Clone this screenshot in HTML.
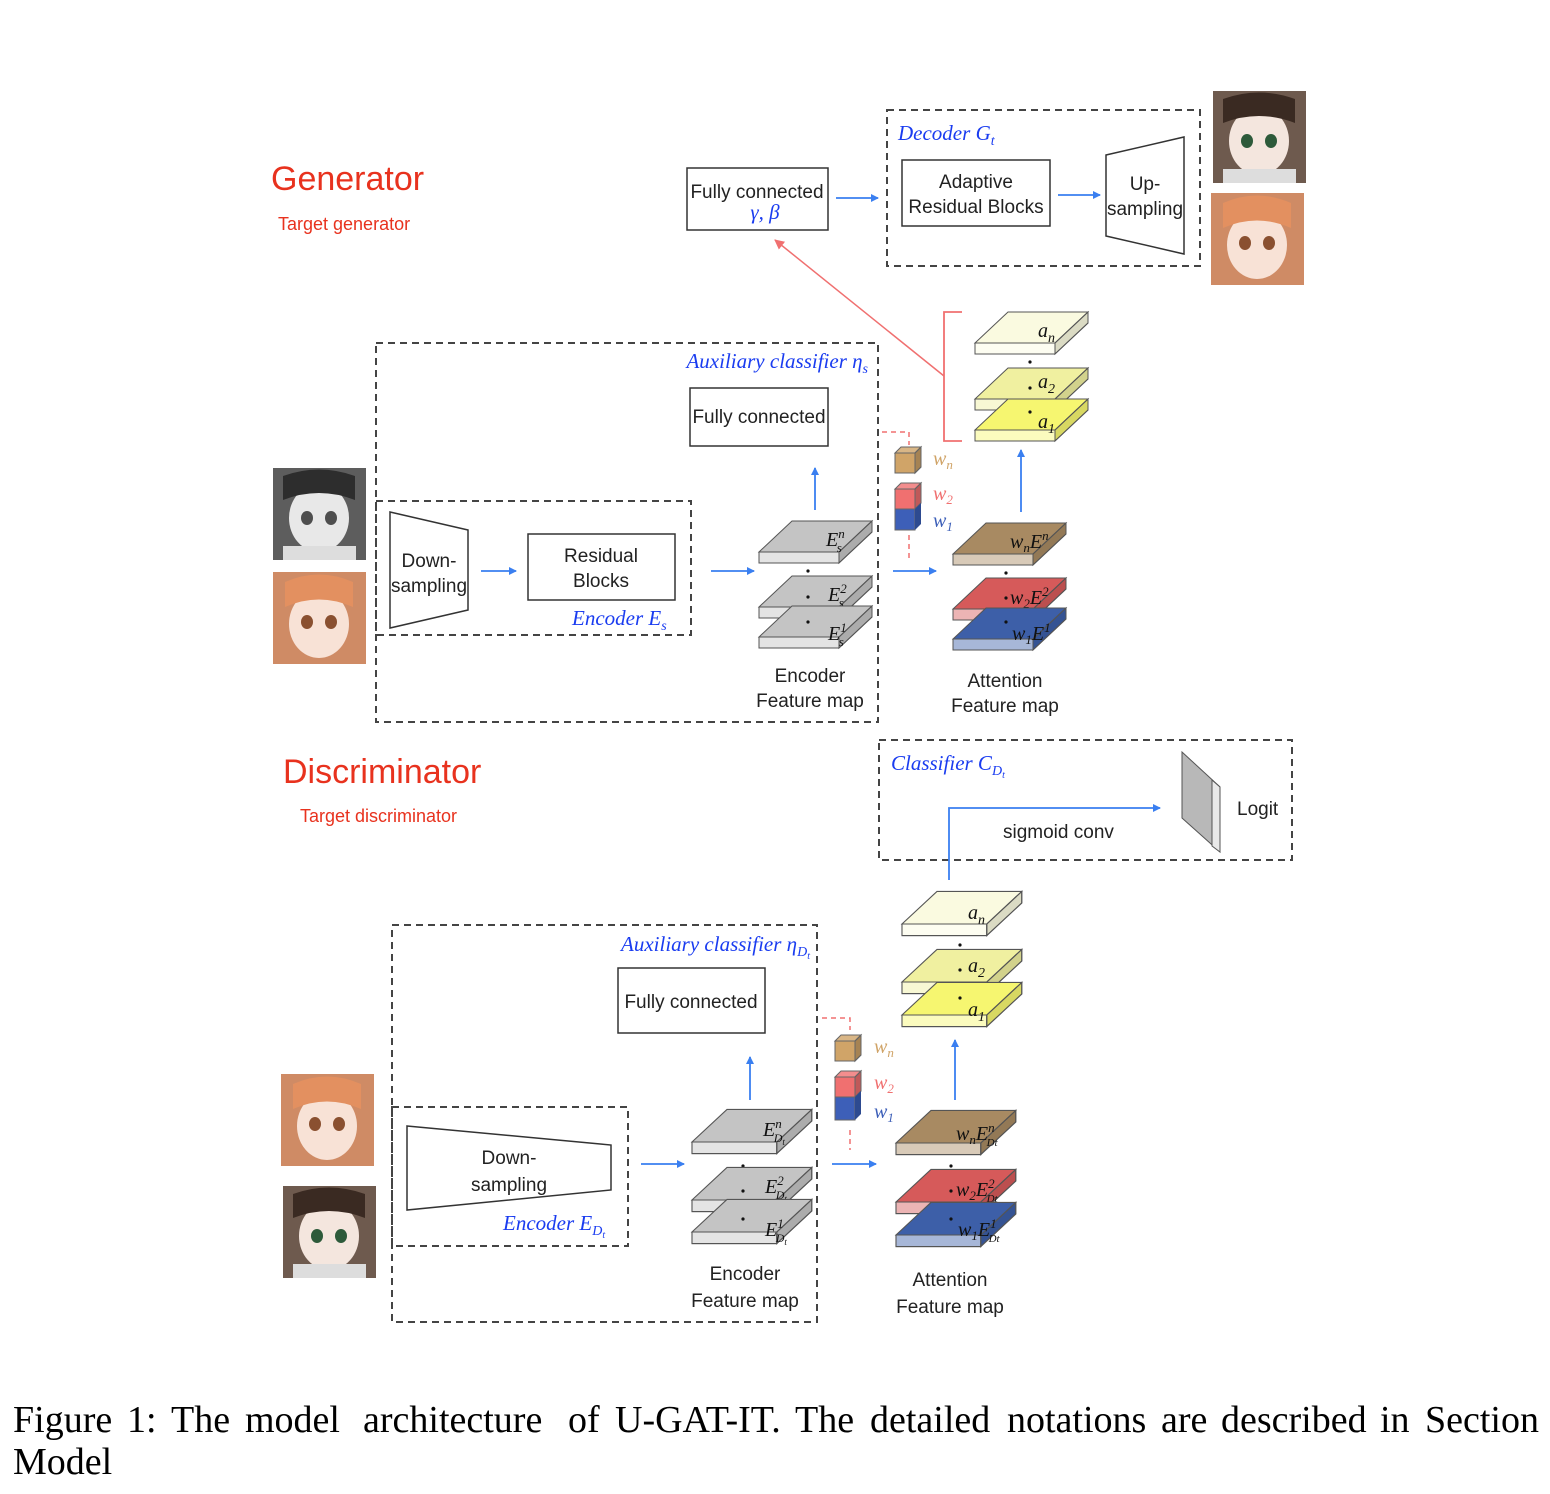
<!DOCTYPE html>
<html><head><meta charset="utf-8">
<style>
html,body{margin:0;padding:0;background:#fff;}
svg{display:block;}
.s{font-family:"Liberation Sans","DejaVu Sans",sans-serif;font-size:19px;fill:#222;}
.b{font-family:"Liberation Serif",serif;font-style:italic;font-size:21px;fill:#1a3cf0;}
.m{font-family:"Liberation Serif",serif;font-style:italic;font-size:20px;fill:#111;}
.box{fill:#fff;stroke:#333;stroke-width:1.5;}
.dash{fill:none;stroke:#444;stroke-width:2;stroke-dasharray:7,5;}
.ar{stroke:#3a7ff0;stroke-width:1.8;fill:none;marker-end:url(#ab);}
.cap{font-family:"Liberation Serif",serif;font-size:38px;fill:#000;}
</style></head><body>
<svg width="1550" height="1494" viewBox="0 0 1550 1494" xmlns="http://www.w3.org/2000/svg">
<defs>
<marker id="ab" markerWidth="8" markerHeight="8" refX="7" refY="4" orient="auto" markerUnits="userSpaceOnUse"><path d="M0,0 L8,4 L0,8 z" fill="#3a7ff0"/></marker>
<marker id="ar" markerWidth="10" markerHeight="10" refX="9" refY="5" orient="auto" markerUnits="userSpaceOnUse"><path d="M0,0 L10,5 L0,10 z" fill="#f07070"/></marker>
<g id="p" stroke="#555" stroke-width="1">
<polygon points="0,0 80,0 113,-31 33,-31"/>
<polygon points="0,0 80,0 80,11 0,11"/>
<polygon points="0,0 80,0 80,11 0,11" fill="#fff" fill-opacity="0.55"/>
<polygon points="80,0 113,-31 113,-20 80,11"/>
<polygon points="80,0 113,-31 113,-20 80,11" fill="#000" fill-opacity="0.12"/>
</g>
<g id="cube" stroke="#666" stroke-width="1">
<polygon points="0,6 20,6 20,26 0,26"/>
<polygon points="0,6 6,0 26,0 20,6" fill-opacity="0.8"/>
<polygon points="20,6 26,0 26,20 20,26"/>
<polygon points="20,6 26,0 26,20 20,26" fill="#000" fill-opacity="0.2"/>
</g>
<g id="face">
<rect x="0" y="0" width="93" height="92" fill="#d98a5a"/>
<rect x="0" y="0" width="93" height="92" fill="#b89080" opacity="0.3"/>
<ellipse cx="46" cy="52" rx="30" ry="34" fill="#f8e2d6"/>
<ellipse cx="34" cy="50" rx="6" ry="7" fill="#8a5030"/>
<ellipse cx="58" cy="50" rx="6" ry="7" fill="#8a5030"/>
<path d="M12,10 Q46,-5 80,10 L80,35 Q46,20 12,35z" fill="#e39060"/>
</g>
<g id="face2">
<rect x="0" y="0" width="93" height="92" fill="#6e5a4e"/>
<ellipse cx="46" cy="50" rx="30" ry="34" fill="#f4e6de"/>
<path d="M10,8 Q46,-5 82,8 L82,32 Q46,18 10,32z" fill="#3a2a22"/>
<ellipse cx="34" cy="50" rx="6" ry="7" fill="#2d5a3a"/>
<ellipse cx="58" cy="50" rx="6" ry="7" fill="#2d5a3a"/>
<rect x="10" y="78" width="73" height="14" fill="#ddd"/>
</g>
</defs>

<text x="271" y="190" font-family="Liberation Sans,sans-serif" font-size="34" fill="#e8321e">Generator</text>
<text x="278" y="230" font-family="Liberation Sans,sans-serif" font-size="18" fill="#e8321e">Target generator</text>

<rect class="box" x="687" y="168" width="141" height="62"/>
<text class="s" x="757" y="198" text-anchor="middle">Fully connected</text>
<text class="b" x="765" y="219" text-anchor="middle">γ, β</text>
<line class="ar" x1="836" y1="198" x2="878" y2="198"/>
<rect class="dash" x="887" y="110" width="313" height="156"/>
<text class="b" x="898" y="140">Decoder <tspan>G</tspan><tspan font-size="14" dy="5">t</tspan></text>
<rect class="box" x="902" y="160" width="148" height="66"/>
<text class="s" x="976" y="188" text-anchor="middle">Adaptive</text>
<text class="s" x="976" y="213" text-anchor="middle">Residual Blocks</text>
<line class="ar" x1="1058" y1="195" x2="1100" y2="195"/>
<polygon class="box" points="1106,155 1184,137 1184,254 1106,236"/>
<text class="s" x="1145" y="190" text-anchor="middle">Up-</text>
<text class="s" x="1145" y="215" text-anchor="middle">sampling</text>
<use href="#face2" x="1213" y="91"/>
<use href="#face" x="1211" y="193"/>

<line x1="944" y1="376" x2="775" y2="240" stroke="#f07070" stroke-width="1.5" marker-end="url(#ar)"/>
<polyline points="962,312 944,312 944,441 962,441" fill="none" stroke="#f07070" stroke-width="1.8"/>

<use href="#p" x="975" y="343" fill="#fafae0"/>
<text class="m" x="1038" y="337">a<tspan font-size="14" dy="5">n</tspan></text>
<circle cx="1030" cy="362" r="1.6" fill="#111"/>
<use href="#p" x="975" y="399" fill="#f0f0a0"/>
<text class="m" x="1038" y="388">a<tspan font-size="14" dy="5">2</tspan></text>
<circle cx="1030" cy="388" r="1.6" fill="#111"/>
<use href="#p" x="975" y="430" fill="#f6f670"/>
<text class="m" x="1038" y="428">a<tspan font-size="14" dy="5">1</tspan></text>
<circle cx="1030" cy="412" r="1.6" fill="#111"/>

<rect class="dash" x="376" y="343" width="502" height="379"/>
<text class="b" x="868" y="368" text-anchor="end">Auxiliary classifier η<tspan font-size="14" dy="5">s</tspan></text>
<rect class="box" x="690" y="388" width="138" height="58"/>
<text class="s" x="759" y="423" text-anchor="middle">Fully connected</text>
<line class="ar" x1="815" y1="510" x2="815" y2="468"/>
<rect class="dash" x="376" y="501" width="315" height="134" fill="#fff"/>
<polygon class="box" points="390,512 468,530 468,610 390,628"/>
<text class="s" x="429" y="567" text-anchor="middle">Down-</text>
<text class="s" x="429" y="592" text-anchor="middle">sampling</text>
<line class="ar" x1="481" y1="571" x2="516" y2="571"/>
<rect class="box" x="528" y="534" width="147" height="66"/>
<text class="s" x="601" y="562" text-anchor="middle">Residual</text>
<text class="s" x="601" y="587" text-anchor="middle">Blocks</text>
<text class="b" x="572" y="625">Encoder E<tspan font-size="14" dy="5">s</tspan></text>
<line class="ar" x1="711" y1="571" x2="754" y2="571"/>
<use href="#face2" x="273" y="468" style="filter:grayscale(1)"/>
<use href="#face" x="273" y="572"/>

<use href="#p" x="759" y="552" fill="#c4c4c4"/>
<text class="m" x="826" y="546">E<tspan font-size="13" dy="-8">n</tspan><tspan font-size="13" dx="-8" dy="14">s</tspan></text>
<circle cx="808" cy="571" r="1.6" fill="#111"/>
<use href="#p" x="759" y="607" fill="#c4c4c4"/>
<text class="m" x="828" y="601">E<tspan font-size="13" dy="-8">2</tspan><tspan font-size="13" dx="-8" dy="14">s</tspan></text>
<circle cx="808" cy="597" r="1.6" fill="#111"/>
<use href="#p" x="759" y="637" fill="#c4c4c4"/>
<text class="m" x="828" y="640">E<tspan font-size="13" dy="-8">1</tspan><tspan font-size="13" dx="-8" dy="14">s</tspan></text>
<circle cx="808" cy="622" r="1.6" fill="#111"/>
<text class="s" x="810" y="682" text-anchor="middle">Encoder</text>
<text class="s" x="810" y="707" text-anchor="middle">Feature map</text>

<polyline points="882,432 909,432 909,445" fill="none" stroke="#f07070" stroke-width="1.5" stroke-dasharray="5,4"/>
<line x1="909" y1="535" x2="909" y2="558" stroke="#f07070" stroke-width="1.5" stroke-dasharray="5,4"/>
<use href="#cube" x="895" y="447" fill="#d0a468"/>
<use href="#cube" x="895" y="483" fill="#f07070"/>
<rect x="895" y="509" width="20" height="21" fill="#3d5fb8" stroke="#666"/>
<polygon points="915,509 921,503 921,524 915,530" fill="#2d4a90"/>
<text class="m" x="933" y="465" style="fill:#d0a468">w<tspan font-size="13" dy="4">n</tspan></text>
<text class="m" x="933" y="500" style="fill:#f07070">w<tspan font-size="13" dy="4">2</tspan></text>
<text class="m" x="933" y="527" style="fill:#3d5fb8">w<tspan font-size="13" dy="4">1</tspan></text>
<line class="ar" x1="893" y1="571" x2="936" y2="571"/>
<line class="ar" x1="1021" y1="512" x2="1021" y2="450"/>

<use href="#p" x="953" y="554" fill="#a88a62"/>
<text class="m" x="1010" y="548">w<tspan font-size="13" dy="4">n</tspan><tspan dy="-4">E</tspan><tspan font-size="13" dy="-8">n</tspan></text>
<circle cx="1006" cy="573" r="1.6" fill="#111"/>
<use href="#p" x="953" y="609" fill="#d65a5a"/>
<text class="m" x="1010" y="604">w<tspan font-size="13" dy="4">2</tspan><tspan dy="-4">E</tspan><tspan font-size="13" dy="-8">2</tspan></text>
<circle cx="1006" cy="598" r="1.6" fill="#111"/>
<use href="#p" x="953" y="639" fill="#3d5fa8"/>
<text class="m" x="1012" y="640">w<tspan font-size="13" dy="4">1</tspan><tspan dy="-4">E</tspan><tspan font-size="13" dy="-8">1</tspan></text>
<circle cx="1006" cy="622" r="1.6" fill="#111"/>
<text class="s" x="1005" y="687" text-anchor="middle">Attention</text>
<text class="s" x="1005" y="712" text-anchor="middle">Feature map</text>

<text x="283" y="783" font-family="Liberation Sans,sans-serif" font-size="34" fill="#e8321e">Discriminator</text>
<text x="300" y="822" font-family="Liberation Sans,sans-serif" font-size="18" fill="#e8321e">Target discriminator</text>

<rect class="dash" x="879" y="740" width="413" height="120"/>
<text class="b" x="891" y="770">Classifier C<tspan font-size="14" dy="5">D</tspan><tspan font-size="10" dy="3">t</tspan></text>
<polygon points="1182,752 1220,787 1220,852 1182,818" fill="#b8b8b8" stroke="#555"/>
<polygon points="1212,780 1220,787 1220,852 1212,846" fill="#e8e8e8" stroke="#555"/>
<text class="s" x="1237" y="815">Logit</text>
<polyline points="949,880 949,808 1160,808" class="ar"/>
<text class="s" x="1003" y="838">sigmoid conv</text>

<g transform="translate(902,924) scale(1.06,1.05)"><use href="#p" fill="#fafae0"/></g>
<text class="m" x="968" y="919">a<tspan font-size="14" dy="5">n</tspan></text>
<circle cx="960" cy="945" r="1.6" fill="#111"/>
<g transform="translate(902,982) scale(1.06,1.05)"><use href="#p" fill="#f0f0a0"/></g>
<text class="m" x="968" y="972">a<tspan font-size="14" dy="5">2</tspan></text>
<circle cx="960" cy="970" r="1.6" fill="#111"/>
<g transform="translate(902,1015) scale(1.06,1.05)"><use href="#p" fill="#f6f670"/></g>
<text class="m" x="968" y="1016">a<tspan font-size="14" dy="5">1</tspan></text>
<circle cx="960" cy="998" r="1.6" fill="#111"/>
<line class="ar" x1="955" y1="1100" x2="955" y2="1040"/>

<rect class="dash" x="392" y="925" width="425" height="397"/>
<text class="b" x="810" y="951" text-anchor="end">Auxiliary classifier η<tspan font-size="14" dy="5">D</tspan><tspan font-size="10" dy="3">t</tspan></text>
<rect class="box" x="618" y="968" width="147" height="65"/>
<text class="s" x="691" y="1008" text-anchor="middle">Fully connected</text>
<line class="ar" x1="750" y1="1100" x2="750" y2="1057"/>
<rect class="dash" x="392" y="1107" width="236" height="139" fill="#fff"/>
<polygon class="box" points="407,1126 611,1145 611,1190 407,1210"/>
<text class="s" x="509" y="1164" text-anchor="middle">Down-</text>
<text class="s" x="509" y="1191" text-anchor="middle">sampling</text>
<text class="b" x="503" y="1230">Encoder E<tspan font-size="14" dy="5">D</tspan><tspan font-size="10" dy="3">t</tspan></text>
<line class="ar" x1="641" y1="1164" x2="684" y2="1164"/>
<use href="#face" x="281" y="1074"/>
<use href="#face2" x="283" y="1186"/>

<g transform="translate(692,1142) scale(1.06,1.05)"><use href="#p" fill="#c4c4c4"/></g>
<text class="m" x="763" y="1136">E<tspan font-size="13" dy="-8">n</tspan><tspan font-size="12" dx="-8" dy="14">D</tspan><tspan font-size="9" dy="3">t</tspan></text>
<circle cx="743" cy="1166" r="1.6" fill="#111"/>
<g transform="translate(692,1200) scale(1.06,1.05)"><use href="#p" fill="#c4c4c4"/></g>
<text class="m" x="765" y="1193">E<tspan font-size="13" dy="-8">2</tspan><tspan font-size="12" dx="-8" dy="14">D</tspan><tspan font-size="9" dy="3">t</tspan></text>
<circle cx="743" cy="1191" r="1.6" fill="#111"/>
<g transform="translate(692,1232) scale(1.06,1.05)"><use href="#p" fill="#c4c4c4"/></g>
<text class="m" x="765" y="1236">E<tspan font-size="13" dy="-8">1</tspan><tspan font-size="12" dx="-8" dy="14">D</tspan><tspan font-size="9" dy="3">t</tspan></text>
<circle cx="743" cy="1219" r="1.6" fill="#111"/>
<text class="s" x="745" y="1280" text-anchor="middle">Encoder</text>
<text class="s" x="745" y="1307" text-anchor="middle">Feature map</text>

<polyline points="822,1018 850,1018 850,1030" fill="none" stroke="#f07070" stroke-width="1.5" stroke-dasharray="5,4"/>
<line x1="850" y1="1130" x2="850" y2="1150" stroke="#f07070" stroke-width="1.5" stroke-dasharray="5,4"/>
<use href="#cube" x="835" y="1035" fill="#d0a468"/>
<use href="#cube" x="835" y="1071" fill="#f07070"/>
<rect x="835" y="1097" width="20" height="23" fill="#3d5fb8" stroke="#666"/>
<polygon points="855,1097 861,1091 861,1114 855,1120" fill="#2d4a90"/>
<text class="m" x="874" y="1053" style="fill:#d0a468">w<tspan font-size="13" dy="4">n</tspan></text>
<text class="m" x="874" y="1089" style="fill:#f07070">w<tspan font-size="13" dy="4">2</tspan></text>
<text class="m" x="874" y="1118" style="fill:#3d5fb8">w<tspan font-size="13" dy="4">1</tspan></text>
<line class="ar" x1="832" y1="1164" x2="876" y2="1164"/>

<g transform="translate(896,1143) scale(1.06,1.05)"><use href="#p" fill="#a88a62"/></g>
<text class="m" x="956" y="1140">w<tspan font-size="13" dy="4">n</tspan><tspan dy="-4">E</tspan><tspan font-size="13" dy="-8">n</tspan><tspan font-size="11" dx="-8" dy="14">Dt</tspan></text>
<circle cx="951" cy="1166" r="1.6" fill="#111"/>
<g transform="translate(896,1202) scale(1.06,1.05)"><use href="#p" fill="#d65a5a"/></g>
<text class="m" x="956" y="1196">w<tspan font-size="13" dy="4">2</tspan><tspan dy="-4">E</tspan><tspan font-size="13" dy="-8">2</tspan><tspan font-size="11" dx="-8" dy="14">Dt</tspan></text>
<circle cx="951" cy="1191" r="1.6" fill="#111"/>
<g transform="translate(896,1235) scale(1.06,1.05)"><use href="#p" fill="#3d5fa8"/></g>
<text class="m" x="958" y="1236">w<tspan font-size="13" dy="4">1</tspan><tspan dy="-4">E</tspan><tspan font-size="13" dy="-8">1</tspan><tspan font-size="11" dx="-8" dy="14">Dt</tspan></text>
<circle cx="951" cy="1219" r="1.6" fill="#111"/>
<text class="s" x="950" y="1286" text-anchor="middle">Attention</text>
<text class="s" x="950" y="1313" text-anchor="middle">Feature map</text>

<text class="cap" y="1432"><tspan x="13">Figure</tspan><tspan x="127">1:</tspan><tspan x="171">The</tspan><tspan x="245">model</tspan><tspan x="363">architecture</tspan><tspan x="568">of</tspan><tspan x="615">U-GAT-IT.</tspan><tspan x="795">The</tspan><tspan x="870">detailed</tspan><tspan x="1007">notations</tspan><tspan x="1161">are</tspan><tspan x="1221">described</tspan><tspan x="1380">in</tspan><tspan x="1425">Section</tspan></text>
<text class="cap" x="13" y="1474">Model</text>
</svg>
</body></html>
